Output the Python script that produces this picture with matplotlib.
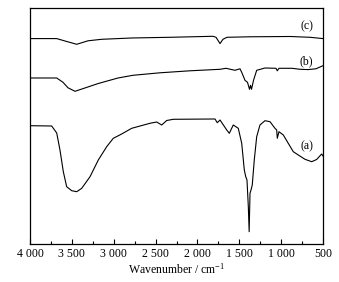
import matplotlib
matplotlib.use('Agg')
import matplotlib.pyplot as plt
from matplotlib.ticker import FixedLocator, FixedFormatter, MultipleLocator

plt.rcParams['font.family'] = ['Liberation Serif', 'DejaVu Serif']
plt.rcParams['mathtext.fontset'] = 'custom'
plt.rcParams['mathtext.rm'] = 'Liberation Serif'
plt.rcParams['mathtext.it'] = 'Liberation Serif:italic'

# spectrum (a)
wn_a = [4000, 3741, 3681, 3642, 3602, 3562, 3502, 3442, 3382, 3283, 3184, 3084,
        3005, 2905, 2785, 2567, 2487, 2427, 2367, 2288, 1790, 1763, 1730, 1650,
        1619, 1572, 1512, 1471, 1440, 1423, 1408, 1392, 1382, 1372, 1360, 1345,
        1321, 1292, 1253, 1193, 1133, 1074, 1053, 1046, 1026, 974, 915, 855, 795,
        715, 635, 576, 516, 500]
t_a = [118.6, 118.3, 111.3, 94.3, 72.6, 57.6, 53.6, 52.6, 56.0, 67.6, 84.3, 97.6,
       106.0, 110.3, 116.0, 121.0, 122.3, 119.3, 123.8, 125.0, 125.3, 121.6, 124.3, 114.3,
       111.0, 119.3, 116.0, 101.0, 74.3, 67.6, 64.3, 37.6, 12.6, 51.0, 54.3, 59.3,
       84.3, 107.6, 119.3, 123.6, 122.6, 116.0, 114.3, 106.0, 112.6, 109.3, 101.0, 92.6, 89.3,
       85.0, 82.6, 84.8, 90.3, 88.3]

# spectrum (b)
wn_b = [4000, 3681, 3606, 3546, 3462, 3355, 3188, 2949, 2770, 2447, 2089, 1730,
        1659, 1551, 1492, 1471, 1432, 1402, 1378, 1366, 1354, 1330, 1292, 1193,
        1062, 1046, 1026, 870, 775, 679, 584, 500]
t_b = [166.3, 166.3, 162.0, 156.5, 153.0, 156.0, 160.7, 166.3, 169.0, 171.5, 173.5, 175.0,
       176.0, 174.0, 175.5, 172.0, 164.0, 162.0, 155.0, 159.0, 155.0, 164.0, 174.0, 176.3,
       176.0, 173.5, 176.0, 176.0, 175.0, 174.7, 175.5, 178.6]

# spectrum (c)
wn_c = [4000, 3681, 3570, 3442, 3307, 3144, 2785, 2328, 1814, 1778, 1730, 1695,
        1647, 1372, 894, 655, 500]
t_c = [205.7, 205.7, 203.0, 200.0, 203.5, 205.0, 206.3, 207.0, 208.0, 207.0, 200.7, 205.0,
       207.0, 207.5, 207.8, 207.0, 205.7]

tick_values = [4000, 3500, 3000, 2500, 2000, 1500, 1000, 500]
tick_labels = ['4 000', '3 500', '3 000', '2 500', '2 000', '1 500', '1 000', '500']

curve_labels = ['(a)', '(b)', '(c)']
label_x = [695, 695, 695]
label_y = [97.6, 182.6, 218.0]

fig = plt.figure(figsize=(3.39, 2.82), dpi=100)
ax = fig.add_axes([0.0885, 0.1337, 0.8643, 0.8369])

for wn, t in [(wn_a, t_a), (wn_b, t_b), (wn_c, t_c)]:
    ax.plot(wn, t, color='black', lw=0.8)

for lab, lx, ly in zip(curve_labels, label_x, label_y):
    ax.text(lx, ly, lab, ha='center', va='center', fontsize=8.5)

ax.set_xlim(4000, 500)
ax.set_ylim(0, 236)
ax.xaxis.set_major_locator(FixedLocator(tick_values))
ax.xaxis.set_major_formatter(FixedFormatter(tick_labels))
ax.xaxis.set_minor_locator(MultipleLocator(250))
ax.set_yticks([])
ax.tick_params(axis='x', which='major', direction='in', length=3.5, width=0.8,
               labelsize=8.5, pad=3)
ax.tick_params(axis='x', which='minor', direction='in', length=2, width=0.8)
for sp in ax.spines.values():
    sp.set_linewidth(0.9)
ax.set_xlabel('Wavenumber / cm$^{-1}$', fontsize=8.5, labelpad=1)

fig.savefig('out.png', dpi=100)
